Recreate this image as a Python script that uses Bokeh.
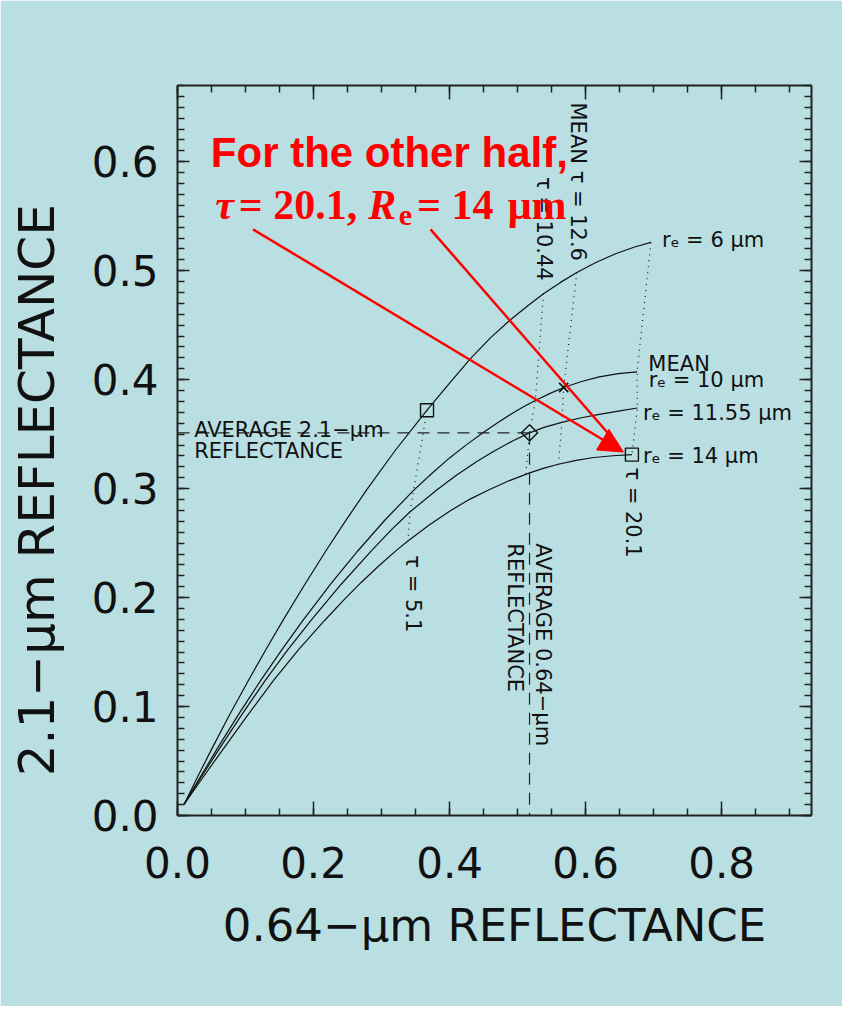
import math
from bokeh.plotting import figure
from bokeh.models import (FixedTicker, LinearAxis, Range1d, Arrow, NormalHead,
                          Label, PrintfTickFormatter)
from bokeh.embed import file_html
from bokeh.resources import INLINE

# ---------------- data ----------------
# constant effective-radius curves (0.64-um reflectance, 2.1-um reflectance)
re6_x = [0.0098, 0.03, 0.05, 0.075, 0.1044, 0.13, 0.155, 0.185, 0.2187, 0.2475, 0.2775, 0.32,
         0.3668, 0.40, 0.43, 0.46, 0.489, 0.515, 0.538, 0.563, 0.587, 0.615, 0.645, 0.672, 0.696]
re6_y = [0.0104, 0.0360, 0.0607, 0.0907, 0.1242, 0.1524, 0.1791, 0.2100, 0.2434, 0.2708, 0.2984, 0.3350,
         0.3720, 0.3969, 0.4188, 0.4384, 0.4548, 0.4678, 0.4788, 0.4893, 0.4984, 0.5075, 0.5158, 0.5218, 0.5260]

re10_x = [0.0098, 0.035, 0.06, 0.09, 0.1226, 0.153, 0.1844, 0.225, 0.2653, 0.305, 0.347, 0.375,
          0.40, 0.425, 0.45, 0.47, 0.49, 0.508, 0.526, 0.547, 0.5677, 0.594, 0.62, 0.648, 0.6756]
re10_y = [0.0104, 0.0370, 0.0630, 0.0930, 0.1242, 0.1518, 0.1791, 0.2124, 0.2430, 0.2712, 0.2984, 0.3146,
          0.3282, 0.3404, 0.3517, 0.3603, 0.3683, 0.3750, 0.3809, 0.3872, 0.3928, 0.3983, 0.4025, 0.4056, 0.4072]

re1155_x = [0.0098, 0.035, 0.06, 0.095, 0.129, 0.162, 0.1966, 0.24, 0.2859, 0.315, 0.342, 0.3815,
            0.41, 0.44, 0.465, 0.4925, 0.5175, 0.54, 0.565, 0.592, 0.62, 0.648, 0.676]
re1155_y = [0.0104, 0.0353, 0.0598, 0.0930, 0.1240, 0.1520, 0.1793, 0.2118, 0.2436, 0.2626, 0.2788, 0.2989,
            0.3123, 0.3249, 0.3344, 0.3437, 0.3512, 0.3565, 0.3608, 0.3648, 0.3682, 0.3712, 0.3740]

re14_x = [0.0098, 0.035, 0.06, 0.10, 0.1412, 0.178, 0.2162, 0.245, 0.27, 0.2965, 0.3226, 0.3388,
          0.37, 0.40, 0.43, 0.4588, 0.488, 0.5177, 0.54, 0.56, 0.586, 0.612, 0.64, 0.668]
re14_y = [0.0104, 0.0328, 0.0548, 0.0894, 0.1240, 0.1523, 0.1790, 0.1982, 0.2139, 0.2295, 0.2438, 0.2520,
          0.2667, 0.2793, 0.2904, 0.2992, 0.3074, 0.3145, 0.3190, 0.3224, 0.3260, 0.3286, 0.3302, 0.3312]

# constant optical-thickness lines (dotted)
tau51_x = [0.3668, 0.347, 0.342, 0.3388]
tau51_y = [0.372, 0.2984, 0.2788, 0.2520]
tau1044_x = [0.538, 0.526, 0.5175, 0.512]
tau1044_y = [0.4788, 0.3809, 0.3512, 0.3131]
tau126_x = [0.587, 0.5677, 0.565, 0.56]
tau126_y = [0.4984, 0.3928, 0.3608, 0.3224]
tau201_x = [0.696, 0.6756, 0.676, 0.668]
tau201_y = [0.526, 0.4072, 0.374, 0.3312]

# special points
square_x = [0.3668, 0.668]
square_y = [0.372, 0.3312]
avg_x = [0.5175]      # average reflectances (diamond)
avg_y = [0.3512]
mean_x = [0.5677]     # mean tau / mean re (cross)
mean_y = [0.3928]

x_ticks = [0.0, 0.2, 0.4, 0.6, 0.8]
y_ticks = [0.0, 0.1, 0.2, 0.3, 0.4, 0.5, 0.6]
x_minor = [i * 0.05 for i in range(19)]
y_minor = [i * 0.01 for i in range(68)]

BG = "#B9DFE3"
INK = "#111111"
FONT = "DejaVu Sans"

p = figure(width=842, height=1006, x_range=Range1d(0, 0.932), y_range=Range1d(0, 0.67),
           output_backend="svg", toolbar_location=None,
           min_border_left=177, min_border_right=31, min_border_top=85, min_border_bottom=191,
           background_fill_color=BG, border_fill_color=BG, outline_line_color=None)
p.grid.visible = False


def style_axis(ax, ticks, minor, show_labels):
    ax.ticker = FixedTicker(ticks=ticks, minor_ticks=minor)
    ax.formatter = PrintfTickFormatter(format="%.1f")
    ax.axis_line_color = "#222222"
    ax.axis_line_width = 2
    ax.major_tick_line_color = "#222222"
    ax.minor_tick_line_color = "#222222"
    ax.major_tick_line_width = 1.5
    ax.minor_tick_line_width = 1.5
    ax.major_tick_out = 0
    ax.minor_tick_out = 0
    ax.minor_tick_in = 7
    ax.major_label_text_font = FONT
    if show_labels:
        ax.major_label_text_color = INK
        ax.major_label_text_font_size = "42px"
    else:
        # mirrored axes: ticks only, labels not drawn at all
        ax.major_label_text_color = None
        ax.major_label_text_font_size = "10px"
        ax.major_label_standoff = 0


xa = p.xaxis[0]
style_axis(xa, x_ticks, x_minor, True)
xa.major_tick_in = 14
xa.major_label_standoff = 31
xa.axis_label = "0.64\u2212\u03bcm REFLECTANCE"
xa.axis_label_text_font = FONT
xa.axis_label_text_font_size = "45px"
xa.axis_label_text_font_style = "normal"
xa.axis_label_text_color = INK
xa.axis_label_standoff = 18

ya = p.yaxis[0]
style_axis(ya, y_ticks, y_minor, True)
ya.major_tick_in = 12
ya.major_label_standoff = 19
# trailing no-break spaces move the title below the frame centre, as in the reference
ya.axis_label = "2.1\u2212\u03bcm REFLECTANCE" + "\u00a0" * 5
ya.axis_label_text_font = FONT
ya.axis_label_text_font_size = "50px"
ya.axis_label_text_font_style = "normal"
ya.axis_label_text_color = INK
ya.axis_label_standoff = 23

top = LinearAxis()
style_axis(top, x_ticks, x_minor, False)
top.major_tick_in = 14
p.add_layout(top, "above")

right = LinearAxis()
style_axis(right, y_ticks, y_minor, False)
right.major_tick_in = 12
p.add_layout(right, "right")

# curves
for cx, cy in [(re6_x, re6_y), (re10_x, re10_y), (re1155_x, re1155_y), (re14_x, re14_y)]:
    p.line(cx, cy, line_color=INK, line_width=1.2, line_join="round")

for tx, ty in [(tau51_x, tau51_y), (tau1044_x, tau1044_y), (tau126_x, tau126_y), (tau201_x, tau201_y)]:
    p.line(tx, ty, line_color=INK, line_width=1.2, line_dash="1 5")

# dashed average lines
p.line([0, avg_x[0]], [avg_y[0], avg_y[0]], line_color="#222222", line_width=1.2, line_dash="12 8")
p.line([avg_x[0], avg_x[0]], [avg_y[0], 0], line_color="#222222", line_width=1.2, line_dash="12 8")

p.scatter(square_x, square_y, marker="square", size=13, fill_color=None, line_color=INK, line_width=1.4)
p.scatter(avg_x, avg_y, marker="square", size=11.5, angle=math.pi / 4, fill_color=None,
          line_color=INK, line_width=1.4)
p.scatter(mean_x, mean_y, marker="x", size=13, line_color=INK, line_width=1.6)


def lab(x, y, text, size="21px", angle=0.0, align="left", baseline="alphabetic",
        font=FONT, color=INK, style="normal"):
    p.add_layout(Label(x=x, y=y, text=text, angle=angle, text_align=align,
                       text_baseline=baseline, text_font=font, text_font_size=size,
                       text_color=color, text_font_style=style))


DOWN = -math.pi / 2
lab(0.5893, 0.6544, "MEAN \u03c4 = 12.6", angle=DOWN, baseline="middle")
lab(0.5393, 0.586, "\u03c4 = 10.44", angle=DOWN, baseline="middle")
lab(0.3466, 0.2388, "\u03c4 = 5.1", angle=DOWN, baseline="middle")
lab(0.6701, 0.3195, "\u03c4 = 20.1", angle=DOWN, baseline="middle")
lab(0.537, 0.2498, "AVERAGE 0.64\u2212\u03bcm", angle=DOWN, baseline="middle")
lab(0.4966, 0.2498, "REFLECTANCE", angle=DOWN, baseline="middle")

lab(0.0245, 0.3535, "AVERAGE 2.1\u2212\u03bcm")
lab(0.0245, 0.3345, "REFLECTANCE")

lab(0.7123, 0.5284, "r\u2091 = 6 \u03bcm")
lab(0.6922, 0.4147, "MEAN")
lab(0.6926, 0.3994, "r\u2091 = 10 \u03bcm")
lab(0.6844, 0.3697, "r\u2091 = 11.55 \u03bcm")
lab(0.6844, 0.3299, "r\u2091 = 14 \u03bcm")

# red call-out
RED = "#FF0000"
p.add_layout(Arrow(x_start=0.111, y_start=0.538, x_end=0.6554, y_end=0.3336,
                   line_color=RED, line_width=2.5,
                   end=NormalHead(size=24, fill_color=RED, line_color=RED, line_width=1)))
p.add_layout(Arrow(x_start=0.372, y_start=0.538, x_end=0.648, y_end=0.340,
                   line_color=RED, line_width=2.5, end=None))

lab(0.049, 0.6088, "For the other half,", size="42px", font="Liberation Sans",
    color=RED, style="bold")
lab(0.0554, 0.56, "\u03c4", size="42px", font="Liberation Serif", color=RED, style="bold italic")
lab(0.090, 0.56, "= 20.1,", size="42px", font="Liberation Serif", color=RED, style="bold")
lab(0.2804, 0.56, "R", size="42px", font="Liberation Serif", color=RED, style="bold italic")
lab(0.3253, 0.5507, "e", size="30px", font="Liberation Serif", color=RED, style="bold")
lab(0.352, 0.56, "= 14", size="42px", font="Liberation Serif", color=RED, style="bold")
lab(0.4855, 0.56, "\u03bcm", size="42px", font="Liberation Serif", color=RED, style="bold")

open("out.html", "w").write(file_html(p, INLINE))
